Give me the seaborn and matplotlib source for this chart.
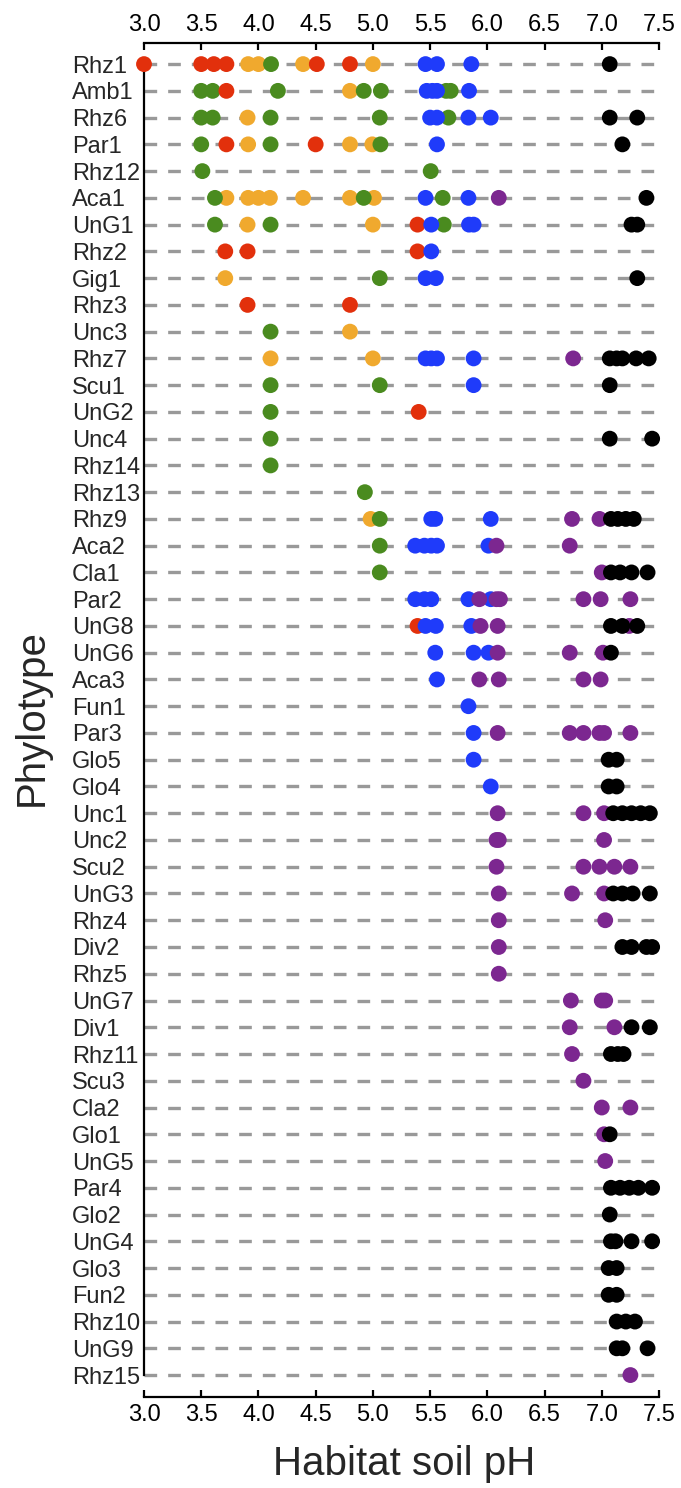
import pandas as pd
import matplotlib
matplotlib.use('Agg')
import matplotlib.pyplot as plt
import seaborn as sns

# --- data ---
phylotypes = ['Rhz1', 'Amb1', 'Rhz6', 'Par1', 'Rhz12', 'Aca1', 'UnG1', 'Rhz2', 'Gig1', 'Rhz3',
              'Unc3', 'Rhz7', 'Scu1', 'UnG2', 'Unc4', 'Rhz14', 'Rhz13', 'Rhz9', 'Aca2', 'Cla1',
              'Par2', 'UnG8', 'UnG6', 'Aca3', 'Fun1', 'Par3', 'Glo5', 'Glo4', 'Unc1', 'Unc2',
              'Scu2', 'UnG3', 'Rhz4', 'Div2', 'Rhz5', 'UnG7', 'Div1', 'Rhz11', 'Scu3', 'Cla2',
              'Glo1', 'UnG5', 'Par4', 'Glo2', 'UnG4', 'Glo3', 'Fun2', 'Rhz10', 'UnG9', 'Rhz15']

orange_ph = {
    'Rhz1': [3.91, 4.00, 4.39, 5.00], 'Amb1': [4.80], 'Rhz6': [3.905],
    'Par1': [3.91, 4.80, 4.995], 'Aca1': [3.72, 3.91, 4.00, 4.10, 4.39, 4.80, 5.01],
    'UnG1': [3.905, 5.00], 'Gig1': [3.71], 'Unc3': [4.80], 'Rhz7': [4.106, 5.00], 'Rhz9': [4.98],
}
green_ph = {
    'Rhz1': [4.11], 'Amb1': [3.50, 3.60, 4.17, 4.92, 5.07, 5.64, 5.68],
    'Rhz6': [3.50, 3.60, 4.106, 5.06, 5.66], 'Par1': [3.50, 4.106, 5.066], 'Rhz12': [3.51, 5.505],
    'Aca1': [3.62, 4.92, 5.61], 'UnG1': [3.62, 4.106, 5.62], 'Gig1': [5.06], 'Unc3': [4.106],
    'Scu1': [4.106, 5.06], 'UnG2': [4.106], 'Unc4': [4.106], 'Rhz14': [4.106], 'Rhz13': [4.93],
    'Rhz9': [5.06], 'Aca2': [5.06], 'Cla1': [5.06],
}
red_ph = {
    'Rhz1': [3.00, 3.50, 3.61, 3.72, 4.51, 4.80], 'Amb1': [3.72], 'Par1': [3.72, 4.50],
    'UnG1': [5.39], 'Rhz2': [3.71, 3.905, 5.39], 'Rhz3': [3.905, 4.80], 'UnG2': [5.40],
    'UnG8': [5.39],
}
blue_ph = {
    'Rhz1': [5.46, 5.56, 5.86], 'Amb1': [5.47, 5.52, 5.56, 5.84], 'Rhz6': [5.50, 5.56, 5.835, 6.03],
    'Par1': [5.56], 'Aca1': [5.46, 5.835], 'UnG1': [5.51, 5.84, 5.88], 'Rhz2': [5.51],
    'Gig1': [5.46, 5.55], 'Rhz7': [5.46, 5.51, 5.56, 5.88], 'Scu1': [5.88],
    'Rhz9': [5.51, 5.545, 6.03], 'Aca2': [5.37, 5.45, 5.51, 5.56, 6.01],
    'Par2': [5.37, 5.45, 5.51, 5.835, 6.03], 'UnG8': [5.46, 5.55, 5.86], 'UnG6': [5.545, 5.88, 6.01],
    'Aca3': [5.56], 'Fun1': [5.835], 'Par3': [5.88], 'Glo5': [5.88], 'Glo4': [6.03],
}
purple_ph = {
    'Aca1': [6.10], 'Rhz7': [6.75], 'Rhz9': [6.74, 6.98], 'Aca2': [6.08, 6.72], 'Cla1': [7.00],
    'Par2': [5.93, 6.08, 6.11, 6.84, 6.99, 7.25], 'UnG8': [5.94, 6.09, 7.24],
    'UnG6': [6.09, 6.72, 7.01], 'Aca3': [5.93, 6.10, 6.84, 6.99],
    'Par3': [6.09, 6.72, 6.84, 6.98, 7.02, 7.25], 'Unc1': [6.09, 6.84, 7.02],
    'Unc2': [6.08, 6.10, 7.02], 'Scu2': [6.08, 6.84, 6.98, 7.11, 7.25], 'UnG3': [6.10, 6.74, 7.02],
    'Rhz4': [6.10, 7.03], 'Div2': [6.10], 'Rhz5': [6.10], 'UnG7': [6.73, 7.00, 7.03],
    'Div1': [6.72, 7.11], 'Rhz11': [6.74], 'Scu3': [6.84], 'Cla2': [7.00, 7.25], 'Glo1': [7.02],
    'UnG5': [7.03], 'Rhz15': [7.25],
}
black_ph = {
    'Rhz1': [7.07], 'Rhz6': [7.07, 7.31], 'Par1': [7.18], 'Aca1': [7.39], 'UnG1': [7.26, 7.31],
    'Gig1': [7.31], 'Rhz7': [7.07, 7.13, 7.18, 7.30, 7.41], 'Scu1': [7.07], 'Unc4': [7.07, 7.44],
    'Rhz9': [7.08, 7.14, 7.21, 7.28], 'Cla1': [7.08, 7.16, 7.26, 7.40], 'UnG8': [7.08, 7.18, 7.31],
    'UnG6': [7.08], 'Glo5': [7.06, 7.13], 'Glo4': [7.06, 7.13],
    'Unc1': [7.10, 7.18, 7.26, 7.34, 7.42], 'UnG3': [7.10, 7.18, 7.27, 7.42],
    'Div2': [7.18, 7.26, 7.39, 7.44], 'Div1': [7.26, 7.42], 'Rhz11': [7.08, 7.14, 7.19],
    'Glo1': [7.07], 'Par4': [7.08, 7.16, 7.24, 7.32, 7.44], 'Glo2': [7.07],
    'UnG4': [7.08, 7.12, 7.26, 7.44], 'Glo3': [7.06, 7.13], 'Fun2': [7.06, 7.13],
    'Rhz10': [7.13, 7.21, 7.29], 'UnG9': [7.13, 7.18, 7.40],
}

x_ticks = [3.0, 3.5, 4.0, 4.5, 5.0, 5.5, 6.0, 6.5, 7.0, 7.5]

# drawing order = order of the groups here (later ones sit on top)
groups = [('orange', orange_ph), ('green', green_ph), ('red', red_ph),
          ('blue', blue_ph), ('purple', purple_ph), ('black', black_ph)]
palette = {'orange': '#F0A92E', 'green': '#4A8B1F', 'red': '#E2300C',
           'blue': '#1F3BFA', 'purple': '#7C2790', 'black': '#000000'}

rows = []
for grp, d in groups:
    for name, vals in d.items():
        for v in vals:
            rows.append({'phylotype': name, 'row': phylotypes.index(name), 'ph': v, 'group': grp})
df = pd.DataFrame(rows)

# --- figure ---
sns.set_style('white')
plt.rcParams['font.family'] = ['Liberation Sans', 'DejaVu Sans']

W, H = 681, 1488
fig = plt.figure(figsize=(W / 100, H / 100), dpi=100)
ax_l, ax_r, ax_t, ax_b = 124, 675, 42.7, 1397
ax = fig.add_axes([ax_l / W, 1 - ax_b / H, (ax_r - ax_l) / W, (ax_b - ax_t) / H])

px_unit = (659 - 144) / 4.5
ax.set_xlim(3.0 - (144 - ax_l) / px_unit, 7.5 + (ax_r - 659) / px_unit)
ax.set_ylim(49.82, -0.80)

# dashed row guides
ax.hlines(range(len(phylotypes)), 3.0, 7.5, color='#999999', lw=2.4,
          linestyles=(0, (3.8, 3.3)), zorder=1)

sns.scatterplot(data=df, x='ph', y='row', hue='group', palette=palette,
                s=130, linewidth=0, legend=False, ax=ax, zorder=3)

# axes styling (R-like)
for side in ['top', 'bottom', 'left']:
    ax.spines[side].set_visible(True)
    ax.spines[side].set_linewidth(1.6)
    ax.spines[side].set_color('black')
ax.spines['right'].set_visible(False)
ax.spines['top'].set_bounds(3.0, 7.5)
ax.spines['bottom'].set_bounds(3.0, 7.5)
ax.spines['left'].set_position(('data', 3.0))
ax.spines['left'].set_bounds(0, len(phylotypes) - 1)

ax.set_xticks(x_ticks)
ax.set_xticklabels([f'{t:.1f}' for t in x_ticks])
ax.xaxis.set_ticks_position('both')
ax.tick_params(axis='x', which='both', direction='in', length=5, width=1.6,
               labeltop=True, labelbottom=True, labelsize=17, pad=5, colors='black')

ax.set_yticks(range(len(phylotypes)))
ax.tick_params(axis='y', length=0, pad=52, labelsize=17)
ax.set_yticklabels(phylotypes, ha='left')

ax.set_xlabel('')
ax.set_ylabel('')
fig.text(404 / W, 1 - 1464 / H, 'Habitat soil pH', fontsize=29, ha='center', va='center')
fig.text(32 / W, 1 - 718 / H, 'Phylotype', fontsize=29, rotation=90, ha='center', va='center')

fig.savefig('out.png', dpi=100)
